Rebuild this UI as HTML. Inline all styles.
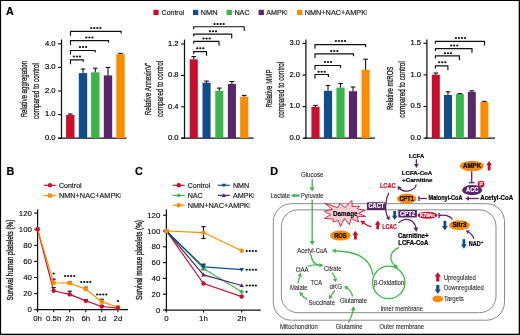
<!DOCTYPE html>
<html><head><meta charset="utf-8"><title>Figure</title>
<style>html,body{margin:0;padding:0;background:#fff;width:520px;height:335px;overflow:hidden;}svg{display:block;font-family:"Liberation Sans",sans-serif;}</style></head>
<body><div style="position:relative;width:520px;height:335px;background:#fff"><div style="will-change:transform;width:520px;height:335px;filter:blur(0.3px)">
<svg width="520" height="335" viewBox="0 0 520 335" font-family="Liberation Sans, sans-serif">
<rect x="0.00" y="0.00" width="520.00" height="335.00" fill="#fff"/>
<text x="6.00" y="14.60" font-size="10.8" font-weight="bold" fill="#000" stroke="#000" stroke-width="0.2">A</text>
<rect x="153.40" y="9.80" width="5.30" height="5.30" fill="#c8102e"/>
<text x="161.60" y="14.80" font-size="7.2" fill="#231f20" textLength="22.50" lengthAdjust="spacingAndGlyphs" stroke="#231f20" stroke-width="0.2">Control</text>
<rect x="193.00" y="9.80" width="5.30" height="5.30" fill="#0f4e8a"/>
<text x="200.60" y="14.80" font-size="7.2" fill="#231f20" textLength="17.00" lengthAdjust="spacingAndGlyphs" stroke="#231f20" stroke-width="0.2">NMN</text>
<rect x="226.60" y="9.80" width="5.30" height="5.30" fill="#3bb54a"/>
<text x="234.40" y="14.80" font-size="7.2" fill="#231f20" textLength="15.20" lengthAdjust="spacingAndGlyphs" stroke="#231f20" stroke-width="0.2">NAC</text>
<rect x="258.60" y="9.80" width="5.30" height="5.30" fill="#5a2569"/>
<text x="266.30" y="14.80" font-size="7.2" fill="#231f20" textLength="21.20" lengthAdjust="spacingAndGlyphs" stroke="#231f20" stroke-width="0.2">AMPK<tspan fill="#8c8c8c" stroke="#8c8c8c" dx="-0.6">i</tspan></text>
<rect x="297.00" y="9.80" width="5.30" height="5.30" fill="#fb8c00"/>
<text x="304.70" y="14.80" font-size="7.2" fill="#231f20" textLength="62.40" lengthAdjust="spacingAndGlyphs" stroke="#231f20" stroke-width="0.2">NMN+NAC+AMPK<tspan fill="#8c8c8c" stroke="#8c8c8c" dx="-0.6">i</tspan></text>
<line x1="61.50" y1="39.50" x2="61.50" y2="138.80" stroke="#111" stroke-width="1.25"/>
<line x1="58.50" y1="138.20" x2="126.60" y2="138.20" stroke="#111" stroke-width="1.25"/>
<line x1="58.10" y1="138.20" x2="61.50" y2="138.20" stroke="#111" stroke-width="1.15"/>
<text x="55.60" y="139.95" font-size="7.6" text-anchor="end" fill="#000" stroke="#000" stroke-width="0.18">0.0</text>
<line x1="58.10" y1="114.60" x2="61.50" y2="114.60" stroke="#111" stroke-width="1.15"/>
<text x="55.60" y="116.35" font-size="7.6" text-anchor="end" fill="#000" stroke="#000" stroke-width="0.18">1.0</text>
<line x1="58.10" y1="91.00" x2="61.50" y2="91.00" stroke="#111" stroke-width="1.15"/>
<text x="55.60" y="92.75" font-size="7.6" text-anchor="end" fill="#000" stroke="#000" stroke-width="0.18">2.0</text>
<line x1="58.10" y1="67.40" x2="61.50" y2="67.40" stroke="#111" stroke-width="1.15"/>
<text x="55.60" y="69.15" font-size="7.6" text-anchor="end" fill="#000" stroke="#000" stroke-width="0.18">3.0</text>
<line x1="58.10" y1="43.80" x2="61.50" y2="43.80" stroke="#111" stroke-width="1.15"/>
<text x="55.60" y="45.55" font-size="7.6" text-anchor="end" fill="#000" stroke="#000" stroke-width="0.18">4.0</text>
<rect x="66.10" y="114.90" width="8.40" height="23.30" fill="#c8102e"/>
<line x1="70.30" y1="114.00" x2="70.30" y2="114.90" stroke="#111" stroke-width="1.1"/>
<line x1="68.00" y1="114.00" x2="72.60" y2="114.00" stroke="#111" stroke-width="1.1"/>
<rect x="78.80" y="73.10" width="8.40" height="65.10" fill="#0f4e8a"/>
<line x1="83.00" y1="69.00" x2="83.00" y2="73.10" stroke="#111" stroke-width="1.1"/>
<line x1="80.70" y1="69.00" x2="85.30" y2="69.00" stroke="#111" stroke-width="1.1"/>
<rect x="91.10" y="72.30" width="8.40" height="65.90" fill="#3bb54a"/>
<line x1="95.30" y1="68.20" x2="95.30" y2="72.30" stroke="#111" stroke-width="1.1"/>
<line x1="93.00" y1="68.20" x2="97.60" y2="68.20" stroke="#111" stroke-width="1.1"/>
<rect x="103.80" y="75.40" width="8.40" height="62.80" fill="#5a2569"/>
<line x1="108.00" y1="67.40" x2="108.00" y2="75.40" stroke="#111" stroke-width="1.1"/>
<line x1="105.70" y1="67.40" x2="110.30" y2="67.40" stroke="#111" stroke-width="1.1"/>
<rect x="116.30" y="54.20" width="8.40" height="84.00" fill="#fb8c00"/>
<line x1="120.50" y1="53.40" x2="120.50" y2="54.20" stroke="#111" stroke-width="1.1"/>
<line x1="118.20" y1="53.40" x2="122.80" y2="53.40" stroke="#111" stroke-width="1.1"/>
<path d="M70.50,35.80 L70.50,31.40 L121.10,31.40 L121.10,33.40" stroke="#111" fill="none" stroke-width="1.15"/>
<ellipse cx="91.22" cy="28.10" rx="1.15" ry="1.0" fill="#111"/>
<ellipse cx="94.27" cy="28.10" rx="1.15" ry="1.0" fill="#111"/>
<ellipse cx="97.33" cy="28.10" rx="1.15" ry="1.0" fill="#111"/>
<ellipse cx="100.38" cy="28.10" rx="1.15" ry="1.0" fill="#111"/>
<path d="M70.50,44.90 L70.50,40.60 L108.60,40.60 L108.60,42.60" stroke="#111" fill="none" stroke-width="1.15"/>
<ellipse cx="86.35" cy="37.60" rx="1.15" ry="1.0" fill="#111"/>
<ellipse cx="89.40" cy="37.60" rx="1.15" ry="1.0" fill="#111"/>
<ellipse cx="92.45" cy="37.60" rx="1.15" ry="1.0" fill="#111"/>
<path d="M70.50,54.40 L70.50,50.50 L95.20,50.50 L95.20,52.50" stroke="#111" fill="none" stroke-width="1.15"/>
<ellipse cx="79.95" cy="47.10" rx="1.15" ry="1.0" fill="#111"/>
<ellipse cx="83.00" cy="47.10" rx="1.15" ry="1.0" fill="#111"/>
<ellipse cx="86.05" cy="47.10" rx="1.15" ry="1.0" fill="#111"/>
<path d="M70.50,64.20 L70.50,59.80 L83.30,59.80 L83.30,61.80" stroke="#111" fill="none" stroke-width="1.15"/>
<ellipse cx="73.85" cy="56.40" rx="1.15" ry="1.0" fill="#111"/>
<ellipse cx="76.90" cy="56.40" rx="1.15" ry="1.0" fill="#111"/>
<ellipse cx="79.95" cy="56.40" rx="1.15" ry="1.0" fill="#111"/>
<text transform="translate(27.20,89.10) rotate(-90)" x="0" y="0" font-size="8.8" text-anchor="middle" fill="#231f20" stroke="#231f20" stroke-width="0.3" textLength="56.50" lengthAdjust="spacingAndGlyphs">Relative aggregation</text>
<text transform="translate(38.50,91.00) rotate(-90)" x="0" y="0" font-size="8.8" text-anchor="middle" fill="#231f20" stroke="#231f20" stroke-width="0.3" textLength="56.00" lengthAdjust="spacingAndGlyphs">compared to control</text>
<line x1="184.50" y1="39.60" x2="184.50" y2="138.80" stroke="#111" stroke-width="1.25"/>
<line x1="181.40" y1="138.20" x2="253.70" y2="138.20" stroke="#111" stroke-width="1.25"/>
<line x1="181.10" y1="138.20" x2="184.50" y2="138.20" stroke="#111" stroke-width="1.15"/>
<text x="178.60" y="139.95" font-size="7.6" text-anchor="end" fill="#000" stroke="#000" stroke-width="0.18">0.0</text>
<line x1="181.10" y1="106.80" x2="184.50" y2="106.80" stroke="#111" stroke-width="1.15"/>
<text x="178.60" y="108.55" font-size="7.6" text-anchor="end" fill="#000" stroke="#000" stroke-width="0.18">0.4</text>
<line x1="181.10" y1="75.40" x2="184.50" y2="75.40" stroke="#111" stroke-width="1.15"/>
<text x="178.60" y="77.15" font-size="7.6" text-anchor="end" fill="#000" stroke="#000" stroke-width="0.18">0.8</text>
<line x1="181.10" y1="44.00" x2="184.50" y2="44.00" stroke="#111" stroke-width="1.15"/>
<text x="178.60" y="45.75" font-size="7.6" text-anchor="end" fill="#000" stroke="#000" stroke-width="0.18">1.2</text>
<rect x="189.70" y="59.30" width="8.10" height="78.90" fill="#c8102e"/>
<line x1="193.75" y1="56.60" x2="193.75" y2="59.30" stroke="#111" stroke-width="1.1"/>
<line x1="191.45" y1="56.60" x2="196.05" y2="56.60" stroke="#111" stroke-width="1.1"/>
<rect x="202.50" y="82.70" width="8.10" height="55.50" fill="#0f4e8a"/>
<line x1="206.55" y1="81.10" x2="206.55" y2="82.70" stroke="#111" stroke-width="1.1"/>
<line x1="204.25" y1="81.10" x2="208.85" y2="81.10" stroke="#111" stroke-width="1.1"/>
<rect x="215.25" y="90.80" width="8.10" height="47.40" fill="#3bb54a"/>
<line x1="219.30" y1="88.10" x2="219.30" y2="90.80" stroke="#111" stroke-width="1.1"/>
<line x1="217.00" y1="88.10" x2="221.60" y2="88.10" stroke="#111" stroke-width="1.1"/>
<rect x="227.85" y="84.00" width="8.10" height="54.20" fill="#5a2569"/>
<line x1="231.90" y1="81.50" x2="231.90" y2="84.00" stroke="#111" stroke-width="1.1"/>
<line x1="229.60" y1="81.50" x2="234.20" y2="81.50" stroke="#111" stroke-width="1.1"/>
<rect x="240.15" y="96.70" width="8.10" height="41.50" fill="#fb8c00"/>
<line x1="244.20" y1="95.40" x2="244.20" y2="96.70" stroke="#111" stroke-width="1.1"/>
<line x1="241.90" y1="95.40" x2="246.50" y2="95.40" stroke="#111" stroke-width="1.1"/>
<path d="M193.70,29.20 L193.70,26.70 L244.20,26.70 L244.20,31.00" stroke="#111" fill="none" stroke-width="1.15"/>
<ellipse cx="214.53" cy="24.00" rx="1.15" ry="1.0" fill="#111"/>
<ellipse cx="217.57" cy="24.00" rx="1.15" ry="1.0" fill="#111"/>
<ellipse cx="220.62" cy="24.00" rx="1.15" ry="1.0" fill="#111"/>
<ellipse cx="223.67" cy="24.00" rx="1.15" ry="1.0" fill="#111"/>
<path d="M193.70,36.60 L193.70,34.10 L231.70,34.10 L231.70,38.60" stroke="#111" fill="none" stroke-width="1.15"/>
<ellipse cx="209.95" cy="31.20" rx="1.15" ry="1.0" fill="#111"/>
<ellipse cx="213.00" cy="31.20" rx="1.15" ry="1.0" fill="#111"/>
<ellipse cx="216.05" cy="31.20" rx="1.15" ry="1.0" fill="#111"/>
<path d="M193.70,43.80 L193.70,41.30 L219.00,41.30 L219.00,45.80" stroke="#111" fill="none" stroke-width="1.15"/>
<ellipse cx="203.55" cy="38.60" rx="1.15" ry="1.0" fill="#111"/>
<ellipse cx="206.60" cy="38.60" rx="1.15" ry="1.0" fill="#111"/>
<ellipse cx="209.65" cy="38.60" rx="1.15" ry="1.0" fill="#111"/>
<path d="M193.70,54.10 L193.70,51.60 L206.50,51.60 L206.50,55.70" stroke="#111" fill="none" stroke-width="1.15"/>
<ellipse cx="197.25" cy="48.30" rx="1.15" ry="1.0" fill="#111"/>
<ellipse cx="200.30" cy="48.30" rx="1.15" ry="1.0" fill="#111"/>
<ellipse cx="203.35" cy="48.30" rx="1.15" ry="1.0" fill="#111"/>
<text transform="translate(151.10,88.90) rotate(-90)" x="0" y="0" font-size="8.8" text-anchor="middle" fill="#231f20" stroke="#231f20" stroke-width="0.3" textLength="52.80" lengthAdjust="spacingAndGlyphs">Relative AnnexinV⁺</text>
<text transform="translate(162.50,88.90) rotate(-90)" x="0" y="0" font-size="8.8" text-anchor="middle" fill="#231f20" stroke="#231f20" stroke-width="0.3" textLength="56.00" lengthAdjust="spacingAndGlyphs">compared to control</text>
<line x1="305.90" y1="39.60" x2="305.90" y2="138.80" stroke="#111" stroke-width="1.25"/>
<line x1="303.90" y1="138.20" x2="374.90" y2="138.20" stroke="#111" stroke-width="1.25"/>
<line x1="302.50" y1="138.20" x2="305.90" y2="138.20" stroke="#111" stroke-width="1.15"/>
<text x="300.10" y="139.95" font-size="7.6" text-anchor="end" fill="#000" stroke="#000" stroke-width="0.18">0.0</text>
<line x1="302.50" y1="106.60" x2="305.90" y2="106.60" stroke="#111" stroke-width="1.15"/>
<text x="300.10" y="108.35" font-size="7.6" text-anchor="end" fill="#000" stroke="#000" stroke-width="0.18">1.0</text>
<line x1="302.50" y1="75.00" x2="305.90" y2="75.00" stroke="#111" stroke-width="1.15"/>
<text x="300.10" y="76.75" font-size="7.6" text-anchor="end" fill="#000" stroke="#000" stroke-width="0.18">2.0</text>
<line x1="302.50" y1="43.40" x2="305.90" y2="43.40" stroke="#111" stroke-width="1.15"/>
<text x="300.10" y="45.15" font-size="7.6" text-anchor="end" fill="#000" stroke="#000" stroke-width="0.18">3.0</text>
<rect x="311.40" y="106.90" width="8.20" height="31.30" fill="#c8102e"/>
<line x1="315.50" y1="105.40" x2="315.50" y2="106.90" stroke="#111" stroke-width="1.1"/>
<line x1="313.20" y1="105.40" x2="317.80" y2="105.40" stroke="#111" stroke-width="1.1"/>
<rect x="323.90" y="90.80" width="8.20" height="47.40" fill="#0f4e8a"/>
<line x1="328.00" y1="85.50" x2="328.00" y2="90.80" stroke="#111" stroke-width="1.1"/>
<line x1="325.70" y1="85.50" x2="330.30" y2="85.50" stroke="#111" stroke-width="1.1"/>
<rect x="336.40" y="87.60" width="8.20" height="50.60" fill="#3bb54a"/>
<line x1="340.50" y1="83.50" x2="340.50" y2="87.60" stroke="#111" stroke-width="1.1"/>
<line x1="338.20" y1="83.50" x2="342.80" y2="83.50" stroke="#111" stroke-width="1.1"/>
<rect x="348.90" y="91.20" width="8.20" height="47.00" fill="#5a2569"/>
<line x1="353.00" y1="87.00" x2="353.00" y2="91.20" stroke="#111" stroke-width="1.1"/>
<line x1="350.70" y1="87.00" x2="355.30" y2="87.00" stroke="#111" stroke-width="1.1"/>
<rect x="361.50" y="69.70" width="8.20" height="68.50" fill="#fb8c00"/>
<line x1="365.60" y1="59.20" x2="365.60" y2="69.70" stroke="#111" stroke-width="1.1"/>
<line x1="363.30" y1="59.20" x2="367.90" y2="59.20" stroke="#111" stroke-width="1.1"/>
<path d="M315.00,48.80 L315.00,44.60 L365.60,44.60 L365.60,47.10" stroke="#111" fill="none" stroke-width="1.15"/>
<ellipse cx="335.93" cy="41.00" rx="1.15" ry="1.0" fill="#111"/>
<ellipse cx="338.98" cy="41.00" rx="1.15" ry="1.0" fill="#111"/>
<ellipse cx="342.02" cy="41.00" rx="1.15" ry="1.0" fill="#111"/>
<ellipse cx="345.07" cy="41.00" rx="1.15" ry="1.0" fill="#111"/>
<path d="M315.00,58.00 L315.00,53.80 L353.50,53.80 L353.50,56.30" stroke="#111" fill="none" stroke-width="1.15"/>
<ellipse cx="331.25" cy="50.90" rx="1.15" ry="1.0" fill="#111"/>
<ellipse cx="334.30" cy="50.90" rx="1.15" ry="1.0" fill="#111"/>
<ellipse cx="337.35" cy="50.90" rx="1.15" ry="1.0" fill="#111"/>
<path d="M315.00,69.70 L315.00,65.50 L340.50,65.50 L340.50,68.00" stroke="#111" fill="none" stroke-width="1.15"/>
<ellipse cx="324.95" cy="62.00" rx="1.15" ry="1.0" fill="#111"/>
<ellipse cx="328.00" cy="62.00" rx="1.15" ry="1.0" fill="#111"/>
<ellipse cx="331.05" cy="62.00" rx="1.15" ry="1.0" fill="#111"/>
<path d="M315.00,78.70 L315.00,74.50 L328.40,74.50 L328.40,77.00" stroke="#111" fill="none" stroke-width="1.15"/>
<ellipse cx="318.65" cy="71.80" rx="1.15" ry="1.0" fill="#111"/>
<ellipse cx="321.70" cy="71.80" rx="1.15" ry="1.0" fill="#111"/>
<ellipse cx="324.75" cy="71.80" rx="1.15" ry="1.0" fill="#111"/>
<text transform="translate(272.40,88.55) rotate(-90)" x="0" y="0" font-size="8.8" text-anchor="middle" fill="#231f20" stroke="#231f20" stroke-width="0.3" textLength="38.00" lengthAdjust="spacingAndGlyphs">Relative MMP</text>
<text transform="translate(283.50,89.80) rotate(-90)" x="0" y="0" font-size="8.8" text-anchor="middle" fill="#231f20" stroke="#231f20" stroke-width="0.3" textLength="56.00" lengthAdjust="spacingAndGlyphs">compared to control</text>
<line x1="426.90" y1="39.60" x2="426.90" y2="138.70" stroke="#111" stroke-width="1.25"/>
<line x1="425.10" y1="138.10" x2="494.90" y2="138.10" stroke="#111" stroke-width="1.25"/>
<line x1="423.50" y1="138.10" x2="426.90" y2="138.10" stroke="#111" stroke-width="1.15"/>
<text x="421.10" y="139.85" font-size="7.6" text-anchor="end" fill="#000" stroke="#000" stroke-width="0.18">0.0</text>
<line x1="423.50" y1="106.50" x2="426.90" y2="106.50" stroke="#111" stroke-width="1.15"/>
<text x="421.10" y="108.25" font-size="7.6" text-anchor="end" fill="#000" stroke="#000" stroke-width="0.18">0.5</text>
<line x1="423.50" y1="74.90" x2="426.90" y2="74.90" stroke="#111" stroke-width="1.15"/>
<text x="421.10" y="76.65" font-size="7.6" text-anchor="end" fill="#000" stroke="#000" stroke-width="0.18">1.0</text>
<line x1="423.50" y1="43.30" x2="426.90" y2="43.30" stroke="#111" stroke-width="1.15"/>
<text x="421.10" y="45.05" font-size="7.6" text-anchor="end" fill="#000" stroke="#000" stroke-width="0.18">1.5</text>
<rect x="431.80" y="74.70" width="8.00" height="63.40" fill="#c8102e"/>
<line x1="435.80" y1="73.00" x2="435.80" y2="74.70" stroke="#111" stroke-width="1.1"/>
<line x1="433.50" y1="73.00" x2="438.10" y2="73.00" stroke="#111" stroke-width="1.1"/>
<rect x="444.00" y="95.00" width="8.00" height="43.10" fill="#0f4e8a"/>
<line x1="448.00" y1="91.80" x2="448.00" y2="95.00" stroke="#111" stroke-width="1.1"/>
<line x1="445.70" y1="91.80" x2="450.30" y2="91.80" stroke="#111" stroke-width="1.1"/>
<rect x="455.85" y="93.90" width="8.00" height="44.20" fill="#3bb54a"/>
<line x1="459.85" y1="93.50" x2="459.85" y2="93.90" stroke="#111" stroke-width="1.1"/>
<line x1="457.55" y1="93.50" x2="462.15" y2="93.50" stroke="#111" stroke-width="1.1"/>
<rect x="467.80" y="91.80" width="8.00" height="46.30" fill="#5a2569"/>
<line x1="471.80" y1="90.80" x2="471.80" y2="91.80" stroke="#111" stroke-width="1.1"/>
<line x1="469.50" y1="90.80" x2="474.10" y2="90.80" stroke="#111" stroke-width="1.1"/>
<rect x="480.35" y="101.90" width="8.00" height="36.20" fill="#fb8c00"/>
<line x1="484.35" y1="101.40" x2="484.35" y2="101.90" stroke="#111" stroke-width="1.1"/>
<line x1="482.05" y1="101.40" x2="486.65" y2="101.40" stroke="#111" stroke-width="1.1"/>
<path d="M435.40,43.80 L435.40,41.30 L484.50,41.30 L484.50,45.50" stroke="#111" fill="none" stroke-width="1.15"/>
<ellipse cx="455.93" cy="38.10" rx="1.15" ry="1.0" fill="#111"/>
<ellipse cx="458.98" cy="38.10" rx="1.15" ry="1.0" fill="#111"/>
<ellipse cx="462.02" cy="38.10" rx="1.15" ry="1.0" fill="#111"/>
<ellipse cx="465.07" cy="38.10" rx="1.15" ry="1.0" fill="#111"/>
<path d="M435.40,51.10 L435.40,48.60 L472.00,48.60 L472.00,52.80" stroke="#111" fill="none" stroke-width="1.15"/>
<ellipse cx="451.15" cy="45.40" rx="1.15" ry="1.0" fill="#111"/>
<ellipse cx="454.20" cy="45.40" rx="1.15" ry="1.0" fill="#111"/>
<ellipse cx="457.25" cy="45.40" rx="1.15" ry="1.0" fill="#111"/>
<path d="M435.40,58.40 L435.40,55.90 L459.40,55.90 L459.40,60.10" stroke="#111" fill="none" stroke-width="1.15"/>
<ellipse cx="444.95" cy="53.20" rx="1.15" ry="1.0" fill="#111"/>
<ellipse cx="448.00" cy="53.20" rx="1.15" ry="1.0" fill="#111"/>
<ellipse cx="451.05" cy="53.20" rx="1.15" ry="1.0" fill="#111"/>
<path d="M435.40,68.40 L435.40,65.90 L447.90,65.90 L447.90,70.10" stroke="#111" fill="none" stroke-width="1.15"/>
<ellipse cx="439.25" cy="62.20" rx="1.15" ry="1.0" fill="#111"/>
<ellipse cx="442.30" cy="62.20" rx="1.15" ry="1.0" fill="#111"/>
<ellipse cx="445.35" cy="62.20" rx="1.15" ry="1.0" fill="#111"/>
<text transform="translate(393.10,88.35) rotate(-90)" x="0" y="0" font-size="8.8" text-anchor="middle" fill="#231f20" stroke="#231f20" stroke-width="0.3" textLength="43.50" lengthAdjust="spacingAndGlyphs">Relative mtROS</text>
<text transform="translate(404.80,89.40) rotate(-90)" x="0" y="0" font-size="8.8" text-anchor="middle" fill="#231f20" stroke="#231f20" stroke-width="0.3" textLength="56.50" lengthAdjust="spacingAndGlyphs">compared to control</text>
<text x="6.40" y="174.70" font-size="10.8" font-weight="bold" fill="#000" stroke="#000" stroke-width="0.2">B</text>
<line x1="37.60" y1="209.40" x2="37.60" y2="310.30" stroke="#111" stroke-width="1.25"/>
<line x1="36.40" y1="309.70" x2="128.00" y2="309.70" stroke="#111" stroke-width="1.25"/>
<line x1="34.20" y1="309.70" x2="37.60" y2="309.70" stroke="#111" stroke-width="1.15"/>
<text x="32.00" y="312.30" font-size="7.9" text-anchor="end" fill="#000" stroke="#000" stroke-width="0.1">0</text>
<line x1="34.20" y1="293.60" x2="37.60" y2="293.60" stroke="#111" stroke-width="1.15"/>
<text x="32.00" y="296.20" font-size="7.9" text-anchor="end" fill="#000" stroke="#000" stroke-width="0.1">20</text>
<line x1="34.20" y1="277.50" x2="37.60" y2="277.50" stroke="#111" stroke-width="1.15"/>
<text x="32.00" y="280.10" font-size="7.9" text-anchor="end" fill="#000" stroke="#000" stroke-width="0.1">40</text>
<line x1="34.20" y1="261.40" x2="37.60" y2="261.40" stroke="#111" stroke-width="1.15"/>
<text x="32.00" y="264.00" font-size="7.9" text-anchor="end" fill="#000" stroke="#000" stroke-width="0.1">60</text>
<line x1="34.20" y1="245.30" x2="37.60" y2="245.30" stroke="#111" stroke-width="1.15"/>
<text x="32.00" y="247.90" font-size="7.9" text-anchor="end" fill="#000" stroke="#000" stroke-width="0.1">80</text>
<line x1="34.20" y1="229.20" x2="37.60" y2="229.20" stroke="#111" stroke-width="1.15"/>
<text x="32.00" y="231.80" font-size="7.9" text-anchor="end" fill="#000" stroke="#000" stroke-width="0.1">100</text>
<line x1="34.20" y1="213.10" x2="37.60" y2="213.10" stroke="#111" stroke-width="1.15"/>
<text x="32.00" y="215.70" font-size="7.9" text-anchor="end" fill="#000" stroke="#000" stroke-width="0.1">120</text>
<line x1="37.60" y1="309.70" x2="37.60" y2="312.30" stroke="#111" stroke-width="1.1"/>
<text x="37.60" y="321.20" font-size="7.9" text-anchor="middle" fill="#000" stroke="#000" stroke-width="0.1">0h</text>
<line x1="53.60" y1="309.70" x2="53.60" y2="312.30" stroke="#111" stroke-width="1.1"/>
<text x="53.60" y="321.20" font-size="7.9" text-anchor="middle" fill="#000" stroke="#000" stroke-width="0.1">0.5h</text>
<line x1="69.70" y1="309.70" x2="69.70" y2="312.30" stroke="#111" stroke-width="1.1"/>
<text x="69.70" y="321.20" font-size="7.9" text-anchor="middle" fill="#000" stroke="#000" stroke-width="0.1">2h</text>
<line x1="85.80" y1="309.70" x2="85.80" y2="312.30" stroke="#111" stroke-width="1.1"/>
<text x="85.80" y="321.20" font-size="7.9" text-anchor="middle" fill="#000" stroke="#000" stroke-width="0.1">6h</text>
<line x1="101.80" y1="309.70" x2="101.80" y2="312.30" stroke="#111" stroke-width="1.1"/>
<text x="101.80" y="321.20" font-size="7.9" text-anchor="middle" fill="#000" stroke="#000" stroke-width="0.1">1d</text>
<line x1="117.90" y1="309.70" x2="117.90" y2="312.30" stroke="#111" stroke-width="1.1"/>
<text x="117.90" y="321.20" font-size="7.9" text-anchor="middle" fill="#000" stroke="#000" stroke-width="0.1">2d</text>
<line x1="53.60" y1="279.11" x2="53.60" y2="282.73" stroke="#111" stroke-width="1.1"/>
<line x1="51.50" y1="279.11" x2="55.70" y2="279.11" stroke="#111" stroke-width="1.2"/>
<line x1="69.70" y1="281.52" x2="69.70" y2="283.13" stroke="#111" stroke-width="1.1"/>
<line x1="67.60" y1="281.52" x2="71.80" y2="281.52" stroke="#111" stroke-width="1.2"/>
<line x1="85.80" y1="287.16" x2="85.80" y2="289.17" stroke="#111" stroke-width="1.1"/>
<line x1="83.70" y1="287.16" x2="87.90" y2="287.16" stroke="#111" stroke-width="1.2"/>
<line x1="101.80" y1="299.24" x2="101.80" y2="301.65" stroke="#111" stroke-width="1.1"/>
<line x1="99.70" y1="299.24" x2="103.90" y2="299.24" stroke="#111" stroke-width="1.2"/>
<line x1="117.90" y1="306.08" x2="117.90" y2="307.28" stroke="#111" stroke-width="1.1"/>
<line x1="115.80" y1="306.08" x2="120.00" y2="306.08" stroke="#111" stroke-width="1.2"/>
<line x1="53.60" y1="287.56" x2="53.60" y2="290.78" stroke="#111" stroke-width="1.1"/>
<line x1="51.50" y1="287.56" x2="55.70" y2="287.56" stroke="#111" stroke-width="1.2"/>
<line x1="69.70" y1="291.19" x2="69.70" y2="294.40" stroke="#111" stroke-width="1.1"/>
<line x1="67.60" y1="291.19" x2="71.80" y2="291.19" stroke="#111" stroke-width="1.2"/>
<line x1="85.80" y1="299.64" x2="85.80" y2="300.84" stroke="#111" stroke-width="1.1"/>
<line x1="83.70" y1="299.64" x2="87.90" y2="299.64" stroke="#111" stroke-width="1.2"/>
<line x1="101.80" y1="305.68" x2="101.80" y2="306.48" stroke="#111" stroke-width="1.1"/>
<line x1="99.70" y1="305.68" x2="103.90" y2="305.68" stroke="#111" stroke-width="1.2"/>
<line x1="117.90" y1="307.28" x2="117.90" y2="308.09" stroke="#111" stroke-width="1.1"/>
<line x1="115.80" y1="307.28" x2="120.00" y2="307.28" stroke="#111" stroke-width="1.2"/>
<polyline points="37.60,229.20 53.60,290.78 69.70,294.40 85.80,300.84 101.80,306.48 117.90,308.09" fill="none" stroke="#c8102e" stroke-width="1.2"/>
<polyline points="37.60,229.20 53.60,282.73 69.70,283.13 85.80,289.17 101.80,301.65 117.90,307.28" fill="none" stroke="#fb8c00" stroke-width="1.2"/>
<rect x="35.50" y="227.10" width="4.20" height="4.20" fill="#fb8c00"/>
<rect x="51.50" y="280.63" width="4.20" height="4.20" fill="#fb8c00"/>
<rect x="67.60" y="281.03" width="4.20" height="4.20" fill="#fb8c00"/>
<rect x="83.70" y="287.07" width="4.20" height="4.20" fill="#fb8c00"/>
<rect x="99.70" y="299.55" width="4.20" height="4.20" fill="#fb8c00"/>
<rect x="115.80" y="305.18" width="4.20" height="4.20" fill="#fb8c00"/>
<circle cx="37.60" cy="229.20" r="2.2" fill="#c8102e"/>
<circle cx="53.60" cy="290.78" r="2.2" fill="#c8102e"/>
<circle cx="69.70" cy="294.40" r="2.2" fill="#c8102e"/>
<circle cx="85.80" cy="300.84" r="2.2" fill="#c8102e"/>
<circle cx="101.80" cy="306.48" r="2.2" fill="#c8102e"/>
<circle cx="117.90" cy="308.09" r="2.2" fill="#c8102e"/>
<ellipse cx="53.60" cy="273.40" rx="1.15" ry="1.0" fill="#111"/>
<ellipse cx="65.12" cy="276.00" rx="1.15" ry="1.0" fill="#111"/>
<ellipse cx="68.17" cy="276.00" rx="1.15" ry="1.0" fill="#111"/>
<ellipse cx="71.23" cy="276.00" rx="1.15" ry="1.0" fill="#111"/>
<ellipse cx="74.28" cy="276.00" rx="1.15" ry="1.0" fill="#111"/>
<ellipse cx="81.22" cy="282.00" rx="1.15" ry="1.0" fill="#111"/>
<ellipse cx="84.27" cy="282.00" rx="1.15" ry="1.0" fill="#111"/>
<ellipse cx="87.33" cy="282.00" rx="1.15" ry="1.0" fill="#111"/>
<ellipse cx="90.38" cy="282.00" rx="1.15" ry="1.0" fill="#111"/>
<ellipse cx="97.22" cy="294.40" rx="1.15" ry="1.0" fill="#111"/>
<ellipse cx="100.27" cy="294.40" rx="1.15" ry="1.0" fill="#111"/>
<ellipse cx="103.33" cy="294.40" rx="1.15" ry="1.0" fill="#111"/>
<ellipse cx="106.38" cy="294.40" rx="1.15" ry="1.0" fill="#111"/>
<ellipse cx="117.90" cy="301.00" rx="1.15" ry="1.0" fill="#111"/>
<line x1="43.90" y1="185.30" x2="55.70" y2="185.30" stroke="#c8102e" stroke-width="1.2"/>
<circle cx="50.00" cy="185.30" r="2.2" fill="#c8102e"/>
<text x="59.00" y="187.80" font-size="7.2" fill="#231f20" textLength="22.60" lengthAdjust="spacingAndGlyphs" stroke="#231f20" stroke-width="0.2">Control</text>
<line x1="43.90" y1="195.60" x2="55.70" y2="195.60" stroke="#fb8c00" stroke-width="1.2"/>
<rect x="47.90" y="193.50" width="4.20" height="4.20" fill="#fb8c00"/>
<text x="59.00" y="198.10" font-size="7.2" fill="#231f20" textLength="62.20" lengthAdjust="spacingAndGlyphs" stroke="#231f20" stroke-width="0.2">NMN+NAC+AMPK<tspan fill="#8c8c8c" stroke="#8c8c8c" dx="-0.6">i</tspan></text>
<text transform="translate(12.90,260.10) rotate(-90)" x="0" y="0" font-size="9.3" text-anchor="middle" fill="#231f20" stroke="#231f20" stroke-width="0.4" textLength="80.80" lengthAdjust="spacingAndGlyphs">Survival human platelets (%)</text>
<text x="135.00" y="174.70" font-size="10.8" font-weight="bold" fill="#000" stroke="#000" stroke-width="0.2">C</text>
<line x1="166.40" y1="209.40" x2="166.40" y2="310.60" stroke="#111" stroke-width="1.25"/>
<line x1="165.10" y1="310.00" x2="260.80" y2="310.00" stroke="#111" stroke-width="1.25"/>
<line x1="163.00" y1="310.00" x2="166.40" y2="310.00" stroke="#111" stroke-width="1.15"/>
<text x="160.40" y="312.60" font-size="7.9" text-anchor="end" fill="#000" stroke="#000" stroke-width="0.1">0</text>
<line x1="163.00" y1="294.20" x2="166.40" y2="294.20" stroke="#111" stroke-width="1.15"/>
<text x="160.40" y="296.80" font-size="7.9" text-anchor="end" fill="#000" stroke="#000" stroke-width="0.1">20</text>
<line x1="163.00" y1="278.40" x2="166.40" y2="278.40" stroke="#111" stroke-width="1.15"/>
<text x="160.40" y="281.00" font-size="7.9" text-anchor="end" fill="#000" stroke="#000" stroke-width="0.1">40</text>
<line x1="163.00" y1="262.60" x2="166.40" y2="262.60" stroke="#111" stroke-width="1.15"/>
<text x="160.40" y="265.20" font-size="7.9" text-anchor="end" fill="#000" stroke="#000" stroke-width="0.1">60</text>
<line x1="163.00" y1="246.80" x2="166.40" y2="246.80" stroke="#111" stroke-width="1.15"/>
<text x="160.40" y="249.40" font-size="7.9" text-anchor="end" fill="#000" stroke="#000" stroke-width="0.1">80</text>
<line x1="163.00" y1="231.00" x2="166.40" y2="231.00" stroke="#111" stroke-width="1.15"/>
<text x="160.40" y="233.60" font-size="7.9" text-anchor="end" fill="#000" stroke="#000" stroke-width="0.1">100</text>
<line x1="163.00" y1="215.20" x2="166.40" y2="215.20" stroke="#111" stroke-width="1.15"/>
<text x="160.40" y="217.80" font-size="7.9" text-anchor="end" fill="#000" stroke="#000" stroke-width="0.1">120</text>
<line x1="166.40" y1="310.00" x2="166.40" y2="312.60" stroke="#111" stroke-width="1.1"/>
<text x="166.40" y="321.40" font-size="7.9" text-anchor="middle" fill="#000" stroke="#000" stroke-width="0.1">0</text>
<line x1="203.50" y1="310.00" x2="203.50" y2="312.60" stroke="#111" stroke-width="1.1"/>
<text x="203.50" y="321.40" font-size="7.9" text-anchor="middle" fill="#000" stroke="#000" stroke-width="0.1">1h</text>
<line x1="241.70" y1="310.00" x2="241.70" y2="312.60" stroke="#111" stroke-width="1.1"/>
<text x="241.70" y="321.40" font-size="7.9" text-anchor="middle" fill="#000" stroke="#000" stroke-width="0.1">2h</text>
<line x1="203.50" y1="238.50" x2="203.50" y2="226.66" stroke="#111" stroke-width="1.1"/>
<line x1="201.40" y1="238.50" x2="205.60" y2="238.50" stroke="#111" stroke-width="1.2"/>
<line x1="201.40" y1="226.66" x2="205.60" y2="226.66" stroke="#111" stroke-width="1.2"/>
<line x1="203.50" y1="269.71" x2="203.50" y2="264.18" stroke="#111" stroke-width="1.1"/>
<line x1="201.40" y1="269.71" x2="205.60" y2="269.71" stroke="#111" stroke-width="1.2"/>
<line x1="201.40" y1="264.18" x2="205.60" y2="264.18" stroke="#111" stroke-width="1.2"/>
<polyline points="166.40,231.00 203.50,283.54 241.70,296.57" fill="none" stroke="#c8102e" stroke-width="1.2"/>
<polyline points="166.40,231.00 203.50,268.45 241.70,291.83" fill="none" stroke="#3bb54a" stroke-width="1.2"/>
<polyline points="166.40,231.00 203.50,274.85 241.70,285.51" fill="none" stroke="#5a2569" stroke-width="1.2"/>
<polyline points="166.40,231.00 203.50,266.94 241.70,269.71" fill="none" stroke="#0f4e8a" stroke-width="1.2"/>
<polyline points="166.40,231.00 203.50,232.58 241.70,250.75" fill="none" stroke="#fb8c00" stroke-width="1.2"/>
<circle cx="166.40" cy="231.00" r="2.2" fill="#c8102e"/>
<circle cx="203.50" cy="283.54" r="2.2" fill="#c8102e"/>
<circle cx="241.70" cy="296.57" r="2.2" fill="#c8102e"/>
<path d="M166.40,228.70 L168.70,231.00 L166.40,233.30 L164.10,231.00 Z" fill="#3bb54a"/>
<path d="M203.50,266.15 L205.80,268.45 L203.50,270.75 L201.20,268.45 Z" fill="#3bb54a"/>
<path d="M241.70,289.53 L244.00,291.83 L241.70,294.13 L239.40,291.83 Z" fill="#3bb54a"/>
<path d="M164.10,232.61 L168.70,232.61 L166.40,228.70 Z" fill="#5a2569"/>
<path d="M201.20,276.46 L205.80,276.46 L203.50,272.55 Z" fill="#5a2569"/>
<path d="M239.40,287.12 L244.00,287.12 L241.70,283.21 Z" fill="#5a2569"/>
<path d="M164.10,229.39 L168.70,229.39 L166.40,233.30 Z" fill="#0f4e8a"/>
<path d="M201.20,265.33 L205.80,265.33 L203.50,269.25 Z" fill="#0f4e8a"/>
<path d="M239.40,268.10 L244.00,268.10 L241.70,272.01 Z" fill="#0f4e8a"/>
<circle cx="166.40" cy="231.00" r="2.2" fill="#fb8c00"/>
<circle cx="203.50" cy="232.58" r="2.2" fill="#fb8c00"/>
<circle cx="241.70" cy="250.75" r="2.2" fill="#fb8c00"/>
<ellipse cx="246.73" cy="251.00" rx="1.15" ry="1.0" fill="#111"/>
<ellipse cx="249.78" cy="251.00" rx="1.15" ry="1.0" fill="#111"/>
<ellipse cx="252.83" cy="251.00" rx="1.15" ry="1.0" fill="#111"/>
<ellipse cx="255.88" cy="251.00" rx="1.15" ry="1.0" fill="#111"/>
<ellipse cx="246.73" cy="269.80" rx="1.15" ry="1.0" fill="#111"/>
<ellipse cx="249.78" cy="269.80" rx="1.15" ry="1.0" fill="#111"/>
<ellipse cx="252.83" cy="269.80" rx="1.15" ry="1.0" fill="#111"/>
<ellipse cx="255.88" cy="269.80" rx="1.15" ry="1.0" fill="#111"/>
<ellipse cx="246.73" cy="285.40" rx="1.15" ry="1.0" fill="#111"/>
<ellipse cx="249.78" cy="285.40" rx="1.15" ry="1.0" fill="#111"/>
<ellipse cx="252.83" cy="285.40" rx="1.15" ry="1.0" fill="#111"/>
<ellipse cx="255.88" cy="285.40" rx="1.15" ry="1.0" fill="#111"/>
<ellipse cx="246.50" cy="291.70" rx="1.15" ry="1.0" fill="#111"/>
<line x1="172.70" y1="185.30" x2="184.70" y2="185.30" stroke="#c8102e" stroke-width="1.2"/>
<circle cx="178.80" cy="185.30" r="2.2" fill="#c8102e"/>
<text x="187.70" y="187.80" font-size="7.2" fill="#231f20" textLength="22.60" lengthAdjust="spacingAndGlyphs" stroke="#231f20" stroke-width="0.2">Control</text>
<line x1="217.80" y1="185.30" x2="229.80" y2="185.30" stroke="#0f4e8a" stroke-width="1.2"/>
<path d="M221.70,183.76 L226.10,183.76 L223.90,187.50 Z" fill="#0f4e8a"/>
<text x="232.90" y="187.80" font-size="7.2" fill="#231f20" textLength="16.30" lengthAdjust="spacingAndGlyphs" stroke="#231f20" stroke-width="0.2">NMN</text>
<line x1="172.70" y1="195.40" x2="184.70" y2="195.40" stroke="#3bb54a" stroke-width="1.2"/>
<path d="M178.80,193.20 L181.00,195.40 L178.80,197.60 L176.60,195.40 Z" fill="#3bb54a"/>
<text x="187.70" y="197.90" font-size="7.2" fill="#231f20" textLength="15.10" lengthAdjust="spacingAndGlyphs" stroke="#231f20" stroke-width="0.2">NAC</text>
<line x1="217.80" y1="195.40" x2="229.80" y2="195.40" stroke="#5a2569" stroke-width="1.2"/>
<path d="M221.70,196.94 L226.10,196.94 L223.90,193.20 Z" fill="#5a2569"/>
<text x="232.90" y="197.90" font-size="7.2" fill="#231f20" textLength="21.30" lengthAdjust="spacingAndGlyphs" stroke="#231f20" stroke-width="0.2">AMPK<tspan fill="#8c8c8c" stroke="#8c8c8c" dx="-0.6">i</tspan></text>
<line x1="172.70" y1="205.20" x2="184.70" y2="205.20" stroke="#fb8c00" stroke-width="1.2"/>
<circle cx="178.80" cy="205.20" r="2.2" fill="#fb8c00"/>
<text x="187.70" y="207.70" font-size="7.2" fill="#231f20" textLength="62.30" lengthAdjust="spacingAndGlyphs" stroke="#231f20" stroke-width="0.2">NMN+NAC+AMPK<tspan fill="#8c8c8c" stroke="#8c8c8c" dx="-0.6">i</tspan></text>
<text transform="translate(141.80,260.00) rotate(-90)" x="0" y="0" font-size="9.3" text-anchor="middle" fill="#231f20" stroke="#231f20" stroke-width="0.4" textLength="79.80" lengthAdjust="spacingAndGlyphs">Survival mouse platelets (%)</text>
<text x="270.20" y="175.20" font-size="10.8" font-weight="bold" fill="#000" stroke="#000" stroke-width="0.2">D</text>
<rect x="273.3" y="203.7" width="231.2" height="116.5" rx="18" ry="18" fill="none" stroke="#8a8a8a" stroke-width="1"/>
<rect x="281.4" y="209.85" width="214.6" height="102.85" rx="16.5" ry="16.5" fill="none" stroke="#8a8a8a" stroke-width="1"/>
<text x="300.90" y="177.10" font-size="6.6" fill="#2a2a2a" textLength="22.60" lengthAdjust="spacingAndGlyphs" stroke="#2a2a2a" stroke-width="0.1">Glucose</text>
<text x="300.90" y="198.30" font-size="6.6" fill="#2a2a2a" textLength="22.60" lengthAdjust="spacingAndGlyphs" stroke="#2a2a2a" stroke-width="0.1">Pyruvate</text>
<text x="270.50" y="198.30" font-size="6.6" fill="#2a2a2a" textLength="19.60" lengthAdjust="spacingAndGlyphs" stroke="#2a2a2a" stroke-width="0.1">Lactate</text>
<line x1="312.20" y1="178.90" x2="312.20" y2="187.50" stroke="#3bb54a" stroke-width="1.3"/>
<path d="M312.20,191.50 L309.80,187.20 L314.60,187.20 Z" fill="#3bb54a"/>
<line x1="299.60" y1="195.60" x2="294.00" y2="195.60" stroke="#3bb54a" stroke-width="2.2"/>
<path d="M291.20,195.60 L294.60,193.50 L294.60,197.70 Z" fill="#3bb54a"/>
<line x1="312.20" y1="199.70" x2="312.20" y2="241.50" stroke="#3bb54a" stroke-width="1.3"/>
<path d="M312.20,245.30 L309.80,241.00 L314.60,241.00 Z" fill="#3bb54a"/>
<path d="M324.80,203.10 L337.70,207.80 L340.30,203.10 L344.80,207.60 L351.90,200.50 L352.20,206.50 L359.60,206.20 L357.30,208.80 L364.70,210.50 L358.70,213.30 L365.50,216.50 L357.00,216.40 L358.70,222.20 L351.30,218.60 L349.40,224.70 L344.50,218.60 L340.40,226.60 L338.50,220.50 L333.40,221.90 L333.00,219.00 L324.30,218.50 L330.50,214.80 L324.30,211.10 L332.40,209.40 Z" stroke="#c8102e" fill="#f7cdd6" stroke-width="0.85" stroke-linejoin="miter"/>
<text x="345.30" y="215.80" font-size="6.8" font-weight="bold" text-anchor="middle" fill="#000" textLength="24.60" lengthAdjust="spacingAndGlyphs" stroke="#000" stroke-width="0.15">Damage</text>
<ellipse cx="340.4" cy="235.6" rx="10.3" ry="5.0" fill="#fb8c00"/>
<text x="340.40" y="237.80" font-size="6.3" font-weight="bold" text-anchor="middle" fill="#000" textLength="12.50" lengthAdjust="spacingAndGlyphs" stroke="#000" stroke-width="0.2">ROS</text>
<path d="M354.00,239.60 L354.00,235.00 L352.50,235.00 L355.40,230.70 L358.30,235.00 L356.80,235.00 L356.80,239.60 Z" fill="#c8102e"/>
<rect x="366.9" y="202.3" width="18.9" height="7.8" rx="0.8" fill="#5a2569"/>
<text x="376.35" y="208.30" font-size="6.3" font-weight="bold" text-anchor="middle" fill="#fff" textLength="15.50" lengthAdjust="spacingAndGlyphs" stroke="#fff" stroke-width="0.2">CACT</text>
<text x="379.90" y="188.40" font-size="6.3" font-weight="bold" fill="#c8102e" textLength="15.80" lengthAdjust="spacingAndGlyphs" stroke="#c8102e" stroke-width="0.2">LCAC</text>
<path d="M376.30,229.20 L376.30,224.70 L374.80,224.70 L377.70,220.40 L380.60,224.70 L379.10,224.70 L379.10,229.20 Z" fill="#c8102e"/>
<text x="382.30" y="228.50" font-size="6.3" font-weight="bold" fill="#c8102e" textLength="14.60" lengthAdjust="spacingAndGlyphs" stroke="#c8102e" stroke-width="0.2">LCAC</text>
<path d="M371.5,226.8 Q366.5,225.4 363.6,223.0" stroke="#c8102e" fill="none" stroke-width="1.3"/>
<path d="M360.40,220.50 L365.29,221.35 L362.50,225.00 Z" fill="#c8102e"/>
<ellipse cx="406.7" cy="198.7" rx="9.8" ry="4.9" fill="#fb8c00"/>
<text x="406.70" y="200.70" font-size="6.3" font-weight="bold" text-anchor="middle" fill="#000" textLength="14.50" lengthAdjust="spacingAndGlyphs" stroke="#000" stroke-width="0.2">CPT1</text>
<text x="416.60" y="157.60" font-size="6.1" font-weight="bold" text-anchor="middle" fill="#000" textLength="15.20" lengthAdjust="spacingAndGlyphs" stroke="#000" stroke-width="0.2">LCFA</text>
<line x1="416.40" y1="159.30" x2="416.40" y2="164.00" stroke="#5a2569" stroke-width="1.3"/>
<path d="M416.40,167.90 L414.10,163.90 L418.70,163.90 Z" fill="#5a2569"/>
<text x="417.00" y="175.00" font-size="6.2" font-weight="bold" text-anchor="middle" fill="#000" textLength="30.30" lengthAdjust="spacingAndGlyphs" stroke="#000" stroke-width="0.2">LCFA-CoA</text>
<text x="417.30" y="182.10" font-size="6.2" font-weight="bold" text-anchor="middle" fill="#000" textLength="30.50" lengthAdjust="spacingAndGlyphs" stroke="#000" stroke-width="0.2">+Carnitine</text>
<path d="M416.3,184.6 C414.5,191.0 404.0,193.6 399.3,188.0" stroke="#5a2569" fill="none" stroke-width="1.3"/>
<path d="M397.30,185.90 L401.39,187.37 L398.23,190.14 Z" fill="#5a2569"/>
<path d="M388.9,192.8 C385.0,200.0 384.6,211.0 387.8,217.2" stroke="#5a2569" fill="none" stroke-width="1.3"/>
<path d="M389.60,220.40 L385.97,218.02 L389.68,216.06 Z" fill="#5a2569"/>
<text x="428.60" y="200.10" font-size="6.3" font-weight="bold" fill="#000" textLength="33.90" lengthAdjust="spacingAndGlyphs" stroke="#000" stroke-width="0.2">Malonyl-CoA</text>
<text x="480.30" y="200.10" font-size="6.3" font-weight="bold" fill="#000" textLength="32.80" lengthAdjust="spacingAndGlyphs" stroke="#000" stroke-width="0.2">Acetyl-CoA</text>
<line x1="478.80" y1="198.50" x2="468.80" y2="198.50" stroke="#5a2569" stroke-width="1.3"/>
<path d="M465.20,198.50 L469.00,196.30 L469.00,200.70 Z" fill="#5a2569"/>
<line x1="426.90" y1="198.50" x2="418.90" y2="198.50" stroke="#5a2569" stroke-width="1.3"/>
<line x1="418.90" y1="196.00" x2="418.90" y2="201.00" stroke="#5a2569" stroke-width="1.3"/>
<ellipse cx="472.1" cy="190.2" rx="10.0" ry="5.1" fill="#5a2569"/>
<text x="472.20" y="192.10" font-size="6.3" font-weight="bold" text-anchor="middle" fill="#fff" textLength="12.30" lengthAdjust="spacingAndGlyphs" stroke="#fff" stroke-width="0.15">ACC</text>
<circle cx="481.0" cy="184.2" r="3.4" fill="#c8102e"/>
<text x="481.10" y="186.10" font-size="4.8" font-weight="bold" text-anchor="middle" fill="#fff" stroke="#fff" stroke-width="0.1">P</text>
<ellipse cx="471.9" cy="166.0" rx="12.0" ry="5.2" fill="#fb8c00"/>
<text x="472.10" y="168.10" font-size="6.5" font-weight="bold" text-anchor="middle" fill="#000" textLength="18.30" lengthAdjust="spacingAndGlyphs" stroke="#000" stroke-width="0.2">AMPK</text>
<path d="M487.70,170.40 L487.70,165.30 L486.20,165.30 L489.10,161.00 L492.00,165.30 L490.50,165.30 L490.50,170.40 Z" fill="#c8102e"/>
<line x1="471.70" y1="171.20" x2="471.70" y2="182.70" stroke="#5a2569" stroke-width="1.3"/>
<line x1="469.00" y1="182.70" x2="474.60" y2="182.70" stroke="#5a2569" stroke-width="1.3"/>
<path d="M393.30,211.00 L393.30,215.80 L391.80,215.80 L394.70,220.10 L397.60,215.80 L396.10,215.80 L396.10,211.00 Z" fill="#0f4e8a"/>
<rect x="398.3" y="210.0" width="18.6" height="7.5" rx="0.8" fill="#5a2569"/>
<text x="407.60" y="215.90" font-size="6.3" font-weight="bold" text-anchor="middle" fill="#fff" textLength="15.00" lengthAdjust="spacingAndGlyphs" stroke="#fff" stroke-width="0.2">CPT2</text>
<ellipse cx="427.5" cy="215.3" rx="10.0" ry="3.5" fill="#c8102e"/>
<text x="427.50" y="216.80" font-size="4.9" font-weight="bold" text-anchor="middle" fill="#fff" textLength="15.00" lengthAdjust="spacingAndGlyphs" stroke="#fff" stroke-width="0.2">K79Ac</text>
<line x1="439.00" y1="212.70" x2="439.00" y2="218.20" stroke="#5a2569" stroke-width="1.3"/>
<path d="M439.0,215.5 C444.5,214.2 450.0,215.8 452.5,219.5" stroke="#5a2569" fill="none" stroke-width="1.3"/>
<path d="M443.50,220.80 L443.50,226.10 L442.00,226.10 L444.90,230.40 L447.80,226.10 L446.30,226.10 L446.30,220.80 Z" fill="#0f4e8a"/>
<ellipse cx="459.4" cy="225.2" rx="10.4" ry="5.0" fill="#fb8c00"/>
<text x="459.40" y="227.20" font-size="6.5" font-weight="bold" text-anchor="middle" fill="#000" textLength="14.00" lengthAdjust="spacingAndGlyphs" stroke="#000" stroke-width="0.2">Sitr3</text>
<path d="M474.0,238.7 C472.5,235.0 470.5,233.0 468.5,232.0" stroke="#5a2569" fill="none" stroke-width="1.3"/>
<path d="M465.70,230.50 L469.82,230.55 L467.83,234.02 Z" fill="#5a2569"/>
<path d="M462.50,239.30 L462.50,244.50 L461.00,244.50 L463.90,248.80 L466.80,244.50 L465.30,244.50 L465.30,239.30 Z" fill="#0f4e8a"/>
<text x="468.70" y="246.10" font-size="6.3" font-weight="bold" fill="#000" textLength="12.00" lengthAdjust="spacingAndGlyphs" stroke="#000" stroke-width="0.2">NAD</text>
<text x="481.00" y="242.80" font-size="4.0" font-weight="bold" fill="#000" stroke="#000" stroke-width="0.2">+</text>
<path d="M398.6,222.9 C402.0,219.0 408.5,218.0 412.5,221.5 C414.5,223.5 415.8,226.0 416.0,228.0" stroke="#5a2569" fill="none" stroke-width="1.3"/>
<path d="M416.30,231.90 L413.48,227.86 L418.26,227.38 Z" fill="#5a2569"/>
<text x="413.30" y="238.30" font-size="6.3" font-weight="bold" text-anchor="middle" fill="#000" textLength="30.50" lengthAdjust="spacingAndGlyphs" stroke="#000" stroke-width="0.2">Carnitine+</text>
<text x="413.30" y="245.40" font-size="6.3" font-weight="bold" text-anchor="middle" fill="#000" textLength="30.00" lengthAdjust="spacingAndGlyphs" stroke="#000" stroke-width="0.2">LCFA-CoA</text>
<circle cx="388.7" cy="282.4" r="16.2" fill="none" stroke="#3bb54a" stroke-width="1.3"/>
<text x="388.90" y="285.10" font-size="6.4" text-anchor="middle" fill="#2a2a2a" textLength="30.30" lengthAdjust="spacingAndGlyphs" stroke="#2a2a2a" stroke-width="0.1">β-Oxidation</text>
<path d="M398.9,247.7 C392.5,250.0 389.0,256.0 392.0,262.0 C393.5,264.5 395.0,266.0 396.0,266.8" stroke="#3bb54a" fill="none" stroke-width="1.3"/>
<path d="M397.80,268.60 L393.60,267.32 L396.82,264.32 Z" fill="#3bb54a"/>
<path d="M372.8,274.9 C371.0,262.0 362.0,255.0 350.0,252.5 C343.0,251.2 339.0,251.0 335.8,251.0" stroke="#3bb54a" fill="none" stroke-width="1.3"/>
<path d="M331.80,250.80 L335.80,248.50 L335.80,253.10 Z" fill="#3bb54a"/>
<text x="297.20" y="252.90" font-size="6.6" fill="#2a2a2a" textLength="30.20" lengthAdjust="spacingAndGlyphs" stroke="#2a2a2a" stroke-width="0.1">Acetyl-CoA</text>
<text x="295.80" y="271.60" font-size="6.6" fill="#2a2a2a" textLength="12.80" lengthAdjust="spacingAndGlyphs" stroke="#2a2a2a" stroke-width="0.1">OAA</text>
<text x="324.00" y="271.00" font-size="6.6" fill="#2a2a2a" textLength="17.50" lengthAdjust="spacingAndGlyphs" stroke="#2a2a2a" stroke-width="0.1">Citrate</text>
<text x="310.60" y="284.70" font-size="6.6" fill="#2a2a2a" textLength="11.40" lengthAdjust="spacingAndGlyphs" stroke="#2a2a2a" stroke-width="0.1">TCA</text>
<text x="290.00" y="289.80" font-size="6.6" fill="#2a2a2a" textLength="17.50" lengthAdjust="spacingAndGlyphs" stroke="#2a2a2a" stroke-width="0.1">Malate</text>
<text x="329.40" y="288.70" font-size="6.6" fill="#2a2a2a" textLength="12.60" lengthAdjust="spacingAndGlyphs" stroke="#2a2a2a" stroke-width="0.1">αKG</text>
<text x="308.50" y="304.70" font-size="6.6" fill="#2a2a2a" textLength="26.50" lengthAdjust="spacingAndGlyphs" stroke="#2a2a2a" stroke-width="0.1">Succinate</text>
<text x="339.90" y="302.70" font-size="6.6" fill="#2a2a2a" textLength="27.10" lengthAdjust="spacingAndGlyphs" stroke="#2a2a2a" stroke-width="0.1">Glutamate</text>
<text x="335.80" y="328.80" font-size="6.6" fill="#2a2a2a" textLength="26.60" lengthAdjust="spacingAndGlyphs" stroke="#2a2a2a" stroke-width="0.1">Glutamine</text>
<text x="280.00" y="328.80" font-size="6.6" fill="#2a2a2a" textLength="37.80" lengthAdjust="spacingAndGlyphs" stroke="#2a2a2a" stroke-width="0.1">Mitochondrion</text>
<text x="380.50" y="310.80" font-size="6.6" fill="#2a2a2a" textLength="42.50" lengthAdjust="spacingAndGlyphs" stroke="#2a2a2a" stroke-width="0.1">Inner membrane</text>
<text x="379.50" y="328.80" font-size="6.6" fill="#2a2a2a" textLength="44.50" lengthAdjust="spacingAndGlyphs" stroke="#2a2a2a" stroke-width="0.1">Outer membrane</text>
<path d="M311.2,254.9 C311.5,260.0 313.5,264.0 318.5,265.0" stroke="#3bb54a" fill="none" stroke-width="1.3"/>
<path d="M307.9,266.4 C311.0,264.8 314.5,264.6 319.0,265.0" stroke="#3bb54a" fill="none" stroke-width="1.3"/>
<path d="M323.40,265.20 L319.20,267.50 L319.20,262.90 Z" fill="#3bb54a"/>
<path d="M332.1,272.5 C333.5,274.5 334.8,276.5 335.2,278.6" stroke="#3bb54a" fill="none" stroke-width="1.3"/>
<path d="M335.80,282.60 L332.86,279.11 L337.17,278.25 Z" fill="#3bb54a"/>
<path d="M334.8,290.3 C333.5,292.5 332.0,294.0 331.0,295.8" stroke="#3bb54a" fill="none" stroke-width="1.3"/>
<path d="M328.80,299.20 L329.13,294.65 L332.82,297.04 Z" fill="#3bb54a"/>
<path d="M307.4,299.7 C305.0,298.5 303.0,296.5 301.8,294.8" stroke="#3bb54a" fill="none" stroke-width="1.3"/>
<path d="M299.40,291.80 L303.62,293.55 L300.18,296.30 Z" fill="#3bb54a"/>
<path d="M298.1,283.3 C298.3,280.5 299.0,278.5 299.8,276.4" stroke="#3bb54a" fill="none" stroke-width="1.3"/>
<path d="M300.60,272.50 L301.97,276.85 L297.66,275.99 Z" fill="#3bb54a"/>
<path d="M352.5,296.4 C352.0,292.5 350.0,290.0 347.2,288.2" stroke="#3bb54a" fill="none" stroke-width="1.3"/>
<path d="M344.20,285.90 L348.71,286.59 L346.04,290.08 Z" fill="#3bb54a"/>
<path d="M348.4,322.7 C351.0,318.0 352.5,314.0 353.2,310.0" stroke="#3bb54a" fill="none" stroke-width="1.3"/>
<path d="M353.50,306.00 L355.68,310.51 L350.88,310.27 Z" fill="#3bb54a"/>
<path d="M436.20,281.60 L436.20,276.60 L434.70,276.60 L437.80,272.20 L440.90,276.60 L439.40,276.60 L439.40,281.60 Z" fill="#c8102e"/>
<text x="443.90" y="279.70" font-size="6.6" fill="#2a2a2a" textLength="31.90" lengthAdjust="spacingAndGlyphs" stroke="#2a2a2a" stroke-width="0.1">Upregulated</text>
<path d="M436.20,284.90 L436.20,289.60 L434.70,289.60 L437.80,294.00 L440.90,289.60 L439.40,289.60 L439.40,284.90 Z" fill="#0f4e8a"/>
<text x="443.90" y="290.10" font-size="6.6" fill="#2a2a2a" textLength="39.90" lengthAdjust="spacingAndGlyphs" stroke="#2a2a2a" stroke-width="0.1">Downregulated</text>
<ellipse cx="437.8" cy="298.9" rx="5.4" ry="3.3" fill="#fb8c00"/>
<text x="443.90" y="301.10" font-size="6.6" fill="#2a2a2a" textLength="20.00" lengthAdjust="spacingAndGlyphs" stroke="#2a2a2a" stroke-width="0.1">Targets</text>
</svg>
</div><svg width="520" height="335" viewBox="0 0 520 335" style="position:absolute;left:0;top:0"><rect x="0" y="0" width="520" height="1.0" fill="#000"/><rect x="0" y="0" width="1.1" height="335" fill="#000"/><rect x="518.7" y="0" width="1.3" height="335" fill="#000"/><rect x="0" y="333.7" width="520" height="1.3" fill="#000"/></svg></div></body></html>
